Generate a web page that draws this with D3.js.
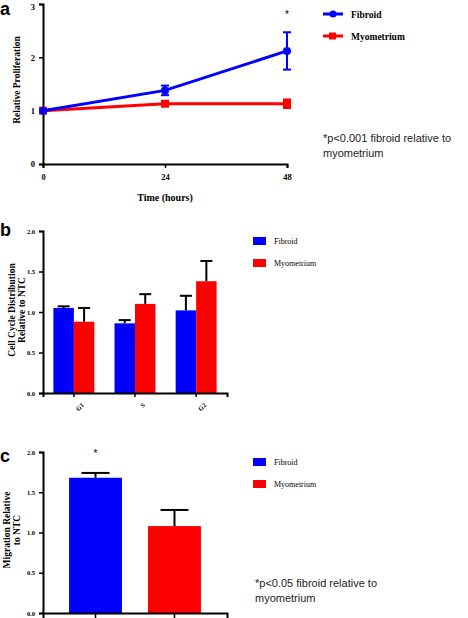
<!DOCTYPE html>
<html><head><meta charset="utf-8">
<script src="https://cdn.jsdelivr.net/npm/d3@7"></script>
<style>body{margin:0;background:#fff}svg{display:block}</style>
</head><body>
<script>
// Panel a data
const timePoints = [0, 24, 48];
const fibroidProlif = [1.0, 1.38, 2.12];
const fibroidProlifErr = [0.02, 0.09, 0.35];
const myoProlif = [1.0, 1.13, 1.13];
const myoProlifErr = [0.02, 0.04, 0.08];
const aYTicks = [0, 1, 2, 3];
// Panel b data
const phases = ["G1", "S", "G2"];
const fibroidCycle = [1.05, 0.86, 1.02];
const fibroidCycleErr = [0.02, 0.04, 0.18];
const myoCycle = [0.88, 1.10, 1.38];
const myoCycleErr = [0.17, 0.12, 0.25];
const bcYTicks = [0, 0.5, 1.0, 1.5, 2.0];
// Panel c data
const groups = ["Fibroid", "Myometrium"];
const migration = [1.68, 1.08];
const migrationErr = [0.06, 0.20];

const BLUE = "#0000ff", RED = "#ff0000";
const SERIF = "'Liberation Serif','DejaVu Serif',serif";
const SANS = "'Liberation Sans',Arial,sans-serif";

const svg = d3.select("body").append("svg").attr("width", 468).attr("height", 618);

function styleAxis(g) {
  g.selectAll("path.domain").attr("stroke", "#000").attr("stroke-width", 2);
  g.selectAll(".tick line").attr("stroke", "#000").attr("stroke-width", 1.5);
  g.selectAll(".tick text").attr("font-family", SERIF).attr("font-weight", "bold").attr("fill", "#000");
}

// ---------- Panel a ----------
{
  const x = d3.scaleLinear().domain([0, 48]).range([43, 287]);
  const y = d3.scaleLinear().domain([0, 3]).range([164, 4]);
  const gy = svg.append("g").attr("transform", "translate(43,0)")
    .call(d3.axisLeft(y).tickValues(aYTicks).tickFormat(d3.format("d")).tickSize(4).tickPadding(4));
  styleAxis(gy); gy.selectAll(".tick text").attr("font-size", 8.5);
  gy.selectAll(".tick text").filter(d => d === 3).attr("dy", "0.6em");
  const gx = svg.append("g").attr("transform", "translate(0,164)")
    .call(d3.axisBottom(x).tickValues(timePoints).tickSize(4).tickPadding(6));
  styleAxis(gx); gx.selectAll(".tick text").attr("font-size", 8.5);

  svg.append("text").attr("x", 165).attr("y", 201).attr("text-anchor", "middle")
    .attr("font-family", SERIF).attr("font-weight", "bold").attr("font-size", 10).text("Time (hours)");
  svg.append("text").attr("transform", "translate(20,80) rotate(-90)").attr("text-anchor", "middle")
    .attr("font-family", SERIF).attr("font-weight", "bold").attr("font-size", 9.5).text("Relative Proliferation");
  svg.append("text").attr("x", 0).attr("y", 15).attr("font-family", SANS).attr("font-weight", "bold")
    .attr("font-size", 18).text("a");

  const line = d3.line().x((d, i) => x(timePoints[i])).y(d => y(d));
  const series = [
    {v: myoProlif, e: myoProlifErr, c: RED, sq: true},
    {v: fibroidProlif, e: fibroidProlifErr, c: BLUE, sq: false}
  ];
  series.forEach(s => {
    svg.append("path").datum(s.v).attr("d", line).attr("fill", "none").attr("stroke", s.c).attr("stroke-width", 3);
    s.v.forEach((v, i) => {
      const cx = x(timePoints[i]);
      if (s.e[i] > 0.03) {
        svg.append("line").attr("x1", cx).attr("x2", cx).attr("y1", y(v + s.e[i])).attr("y2", y(v - s.e[i]))
          .attr("stroke", s.c).attr("stroke-width", 2);
        [v + s.e[i], v - s.e[i]].forEach(ev => svg.append("line").attr("x1", cx - 4).attr("x2", cx + 4)
          .attr("y1", y(ev)).attr("y2", y(ev)).attr("stroke", s.c).attr("stroke-width", 2));
      }
      if (s.sq) svg.append("rect").attr("x", cx - 4).attr("y", y(v) - 4).attr("width", 8).attr("height", 8).attr("fill", s.c);
      else svg.append("circle").attr("cx", cx).attr("cy", y(v)).attr("r", 4).attr("fill", s.c);
    });
  });
  svg.append("text").attr("x", x(48)).attr("y", 18).attr("text-anchor", "middle").attr("font-family", SANS)
    .attr("font-size", 10).text("*");

  // legend
  [{n: "Fibroid", c: BLUE, sq: false, yy: 14}, {n: "Myometrium", c: RED, sq: true, yy: 36}].forEach(l => {
    svg.append("line").attr("x1", 323).attr("x2", 343).attr("y1", l.yy).attr("y2", l.yy).attr("stroke", l.c).attr("stroke-width", 3);
    if (l.sq) svg.append("rect").attr("x", 329).attr("y", l.yy - 3.5).attr("width", 7).attr("height", 7).attr("fill", l.c);
    else svg.append("circle").attr("cx", 333).attr("cy", l.yy).attr("r", 3.5).attr("fill", l.c);
    svg.append("text").attr("x", 351).attr("y", l.yy + 3.5).attr("font-family", SERIF).attr("font-weight", "bold")
      .attr("font-size", 9.5).text(l.n);
  });
  const ann = svg.append("text").attr("font-family", SANS).attr("font-size", 11).attr("fill", "#222");
  ann.append("tspan").attr("x", 323).attr("y", 142).text("*p<0.001 fibroid relative to");
  ann.append("tspan").attr("x", 323).attr("y", 157).text("myometrium");
}

// ---------- Panel b ----------
{
  const x0 = d3.scaleBand().domain(phases).range([43, 227]).paddingInner(0.33).paddingOuter(0.17);
  const x1 = d3.scaleBand().domain(groups).range([0, x0.bandwidth()]);
  const y = d3.scaleLinear().domain([0, 2]).range([393, 231]);
  const gy = svg.append("g").attr("transform", "translate(43,0)")
    .call(d3.axisLeft(y).tickValues(bcYTicks).tickFormat(d3.format(".1f")).tickSize(4).tickPadding(4));
  styleAxis(gy); gy.selectAll(".tick text").attr("font-size", 6.5);
  const gx = svg.append("g").attr("transform", "translate(0,393)")
    .call(d3.axisBottom(x0).tickSize(4).tickPadding(3));
  styleAxis(gx);
  gx.selectAll(".tick text").attr("font-size", 6.5).attr("text-anchor", "end")
    .attr("transform", "translate(4,6) rotate(-45)").attr("dy", "0.35em");

  const vals = [fibroidCycle, myoCycle], errs = [fibroidCycleErr, myoCycleErr], cols = [BLUE, RED];
  phases.forEach((p, i) => {
    groups.forEach((g, j) => {
      const bx = x0(p) + x1(g), w = x1.bandwidth(), v = vals[j][i], e = errs[j][i];
      const cx = bx + w / 2;
      svg.append("line").attr("x1", cx).attr("x2", cx).attr("y1", y(v)).attr("y2", y(v + e)).attr("stroke", "#000").attr("stroke-width", 2);
      svg.append("line").attr("x1", cx - 6).attr("x2", cx + 6).attr("y1", y(v + e)).attr("y2", y(v + e)).attr("stroke", "#000").attr("stroke-width", 2);
      svg.append("rect").attr("x", bx).attr("y", y(v)).attr("width", w).attr("height", y(0) - y(v)).attr("fill", cols[j]);
    });
  });
  gx.raise();

  const t = svg.append("text").attr("transform", "translate(15,310) rotate(-90)").attr("text-anchor", "middle")
    .attr("font-family", SERIF).attr("font-weight", "bold").attr("font-size", 9.5);
  t.append("tspan").attr("x", 0).attr("dy", 0).text("Cell Cycle Distribution");
  t.append("tspan").attr("x", 0).attr("dy", 10).text("Relative to NTC");
  svg.append("text").attr("x", 0).attr("y", 236).attr("font-family", SANS).attr("font-weight", "bold")
    .attr("font-size", 18).text("b");

  groups.forEach((g, j) => {
    const yy = 237 + j * 22;
    svg.append("rect").attr("x", 253).attr("y", yy).attr("width", 13).attr("height", 8).attr("fill", cols[j]);
    svg.append("text").attr("x", 274).attr("y", yy + 7).attr("font-family", SERIF).attr("font-size", 8).text(g);
  });
}

// ---------- Panel c ----------
{
  const x = d3.scaleBand().domain(groups).range([43, 227]).paddingInner(0.33).paddingOuter(0.33);
  const y = d3.scaleLinear().domain([0, 2]).range([613, 452]);
  const gy = svg.append("g").attr("transform", "translate(43,0)")
    .call(d3.axisLeft(y).tickValues(bcYTicks).tickFormat(d3.format(".1f")).tickSize(4).tickPadding(4));
  styleAxis(gy); gy.selectAll(".tick text").attr("font-size", 6.5);
  const gx = svg.append("g").attr("transform", "translate(0,613)")
    .call(d3.axisBottom(x).tickSize(6).tickFormat(""));
  styleAxis(gx);
  const cols = [BLUE, RED];
  groups.forEach((g, j) => {
    const bx = x(g), w = x.bandwidth(), v = migration[j], e = migrationErr[j], cx = bx + w / 2;
    svg.append("line").attr("x1", cx).attr("x2", cx).attr("y1", y(v)).attr("y2", y(v + e)).attr("stroke", "#000").attr("stroke-width", 2);
    svg.append("line").attr("x1", cx - 14).attr("x2", cx + 14).attr("y1", y(v + e)).attr("y2", y(v + e)).attr("stroke", "#000").attr("stroke-width", 2);
    svg.append("rect").attr("x", bx).attr("y", y(v)).attr("width", w).attr("height", y(0) - y(v)).attr("fill", cols[j]);
  });
  gx.raise();
  svg.append("text").attr("x", x(groups[0]) + x.bandwidth() / 2).attr("y", 457).attr("text-anchor", "middle")
    .attr("font-family", SANS).attr("font-size", 10).text("*");

  const t = svg.append("text").attr("transform", "translate(10,530) rotate(-90)").attr("text-anchor", "middle")
    .attr("font-family", SERIF).attr("font-weight", "bold").attr("font-size", 9.5);
  t.append("tspan").attr("x", 0).attr("dy", 0).text("Migration Relative");
  t.append("tspan").attr("x", 0).attr("dy", 10).text("to NTC");
  svg.append("text").attr("x", 0).attr("y", 462).attr("font-family", SANS).attr("font-weight", "bold")
    .attr("font-size", 18).text("c");

  groups.forEach((g, j) => {
    const yy = 458 + j * 22;
    svg.append("rect").attr("x", 253).attr("y", yy).attr("width", 13).attr("height", 8).attr("fill", cols[j]);
    svg.append("text").attr("x", 274).attr("y", yy + 7).attr("font-family", SERIF).attr("font-size", 8).text(g);
  });
  const ann = svg.append("text").attr("font-family", SANS).attr("font-size", 11).attr("fill", "#222");
  ann.append("tspan").attr("x", 255).attr("y", 587).text("*p<0.05 fibroid relative to");
  ann.append("tspan").attr("x", 255).attr("y", 602).text("myometrium");
}
</script>
</body></html>
